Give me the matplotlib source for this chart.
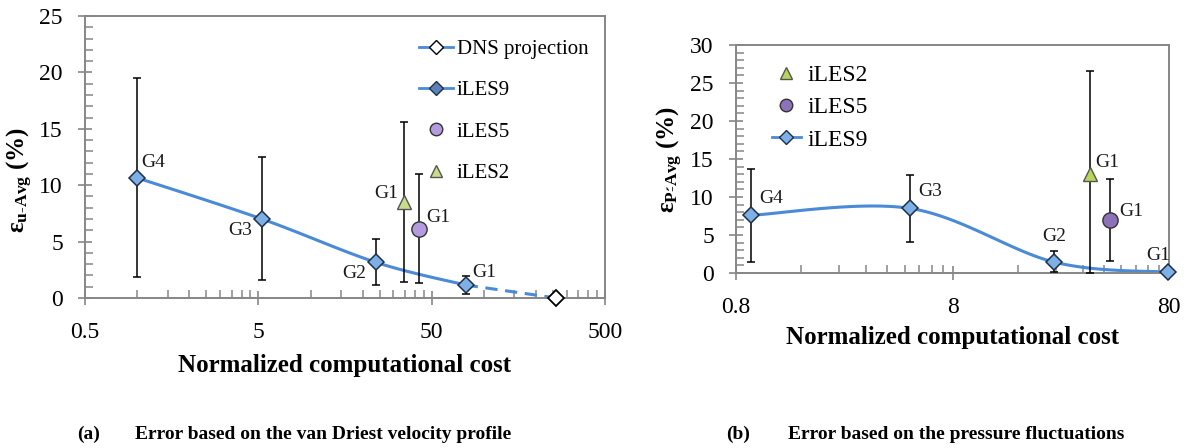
import numpy as np
import matplotlib
matplotlib.use('Agg')
import matplotlib.pyplot as plt
from matplotlib.ticker import FixedLocator, NullFormatter, FixedFormatter
from matplotlib.lines import Line2D

plt.rcParams['font.family'] = ['Liberation Serif', 'DejaVu Serif']
plt.rcParams['mathtext.fontset'] = 'custom'
plt.rcParams['mathtext.rm'] = 'Liberation Serif'
plt.rcParams['mathtext.bf'] = 'Liberation Serif:bold'
plt.rcParams['mathtext.it'] = 'Liberation Serif:italic'

# (a) error based on van Driest velocity profile
a_iles9_cost = [1.0, 5.25, 24.0, 78.6]
a_iles9_err = [10.65, 7.0, 3.15, 1.15]
a_iles9_lo = [1.9, 1.6, 1.15, 0.35]
a_iles9_hi = [19.5, 12.5, 5.2, 1.95]
a_dns_cost = [78.6, 262.0]
a_dns_err = [1.15, 0.0]
a_iles5_cost, a_iles5_err, a_iles5_lo, a_iles5_hi = [42.5], [6.15], [1.3], [10.95]
a_iles2_cost, a_iles2_err, a_iles2_lo, a_iles2_hi = [34.6], [8.5], [1.4], [15.6]

# (b) error based on pressure fluctuations
b_iles9_cost = [0.94, 5.1, 23.5, 79.0]
b_iles9_err = [7.6, 8.5, 1.45, 0.1]
b_iles9_lo = [1.4, 4.1, 0.1, 0.1]
b_iles9_hi = [13.7, 12.9, 2.9, 0.1]
b_iles5_cost, b_iles5_err, b_iles5_lo, b_iles5_hi = [42.9], [7.0], [1.55], [12.4]
b_iles2_cost, b_iles2_err, b_iles2_lo, b_iles2_hi = [34.5], [13.0], [0.0], [26.6]

BLUE = '#4a8ad6'
DIAMOND = '#7eb0e8'
GREEN = '#b8d45a'
GRAY = '#868686'


def smooth(xs, ys, n=40):
    # excel-like smoothed line (catmull-rom in log-x space)
    lx = np.log10(xs)
    pts = np.column_stack([lx, ys])
    pts = np.vstack([pts[0], pts, pts[-1]])
    out = []
    for i in range(1, len(pts) - 2):
        p0, p1, p2, p3 = pts[i - 1], pts[i], pts[i + 1], pts[i + 2]
        c1 = p1 + (p2 - p0) / 6
        c2 = p2 - (p3 - p1) / 6
        t = np.linspace(0, 1, n)[:, None]
        seg = (1 - t) ** 3 * p1 + 3 * (1 - t) ** 2 * t * c1 + 3 * (1 - t) * t ** 2 * c2 + t ** 3 * p2
        out.append(seg)
    out = np.vstack(out)
    return 10 ** out[:, 0], out[:, 1]


def errbar(ax, x, y, lo, hi):
    y = np.array(y)
    yerr = [y - np.array(lo), np.array(hi) - y]
    ax.errorbar(x, y, yerr=yerr, fmt='none', ecolor='black', elinewidth=1.1,
                capsize=3, capthick=1.1, zorder=3)


def style_axes(ax, base, xmax, ymax, majors, labels):
    ax.set_xscale('log')
    ax.set_xlim(base, xmax)
    ax.set_ylim(0, ymax)
    ax.xaxis.set_major_locator(FixedLocator(majors))
    ax.xaxis.set_major_formatter(FixedFormatter(labels))
    minors = []
    for m in majors[:-1]:
        minors += [m * k for k in range(2, 10)]
    ax.xaxis.set_minor_locator(FixedLocator(minors))
    ax.xaxis.set_minor_formatter(NullFormatter())
    ax.yaxis.set_major_locator(FixedLocator(np.arange(0, ymax + 1, 5)))
    ax.yaxis.set_minor_locator(FixedLocator(np.arange(0, ymax + 1, 1)))
    for s in ax.spines.values():
        s.set_color(GRAY)
        s.set_linewidth(1.4)
    ax.tick_params(which='major', direction='inout', length=10, width=1.2, color=GRAY,
                   labelsize=17, top=False, right=False)
    ax.tick_params(which='minor', direction='in', length=6, width=1.1, color=GRAY,
                   top=False, right=False)
    ax.tick_params(axis='x', which='major', pad=12)
    ax.tick_params(axis='y', which='major', pad=11)


fig = plt.figure(figsize=(11.91, 4.48), dpi=100)
ax1 = fig.add_axes([0.0714, 0.3348, 0.4366, 0.6295])
ax2 = fig.add_axes([0.618, 0.3906, 0.3636, 0.5089])

# ---- panel (a)
sx, sy = smooth(a_iles9_cost, a_iles9_err)
ax1.plot(sx, sy, color=BLUE, lw=2.2, zorder=2)
ax1.plot(a_dns_cost, a_dns_err, color=BLUE, lw=2.2, ls=(0, (4, 2.5)), zorder=2)
errbar(ax1, a_iles9_cost, a_iles9_err, a_iles9_lo, a_iles9_hi)
errbar(ax1, a_iles2_cost, a_iles2_err, a_iles2_lo, a_iles2_hi)
errbar(ax1, a_iles5_cost, a_iles5_err, a_iles5_lo, a_iles5_hi)
ax1.plot(a_iles9_cost, a_iles9_err, 'D', ms=8, mfc=DIAMOND, mec='#1f2f45', mew=1.1, zorder=4)
ax1.plot(a_dns_cost[1:], a_dns_err[1:], 'D', ms=8, mfc='white', mec='black', mew=1.3,
         zorder=4, clip_on=False)
ax1.plot(a_iles5_cost, a_iles5_err, 'o', ms=11, mfc='#b49be0', mec='#333333', mew=1.0, zorder=4)
ax1.plot(a_iles2_cost, a_iles2_err, '^', ms=10, mfc='#c8dc8c', mec='#555555', mew=1.0, zorder=4)
style_axes(ax1, 0.5, 500, 25, [0.5, 5, 50, 500], ['0.5', '5', '50', '500'])

lab = dict(fontsize=14, color='#1a1a1a')
ax1.annotate('G4', (a_iles9_cost[0], a_iles9_err[0]), xytext=(3, 5), textcoords='offset points',
             ha='left', va='bottom', **lab)
ax1.annotate('G3', (a_iles9_cost[1], a_iles9_err[1]), xytext=(-7, -2), textcoords='offset points',
             ha='right', va='top', **lab)
ax1.annotate('G2', (a_iles9_cost[2], a_iles9_err[2]), xytext=(-7, -2), textcoords='offset points',
             ha='right', va='top', **lab)
ax1.annotate('G1', (a_iles9_cost[3], a_iles9_err[3]), xytext=(5, 3), textcoords='offset points',
             ha='left', va='bottom', **lab)
ax1.annotate('G1', (a_iles2_cost[0], a_iles2_err[0]), xytext=(-4, 0), textcoords='offset points',
             ha='right', va='bottom', **lab)
ax1.annotate('G1', (a_iles5_cost[0], a_iles5_err[0]), xytext=(5, 2), textcoords='offset points',
             ha='left', va='bottom', **lab)

h1 = [Line2D([], [], color=BLUE, lw=2, marker='D', ms=7, mfc='white', mec='black'),
      Line2D([], [], color=BLUE, lw=2, marker='D', ms=7, mfc='#5a82b8', mec='#1f2f45'),
      Line2D([], [], ls='none', marker='o', ms=9, mfc='#b49be0', mec='#333333'),
      Line2D([], [], ls='none', marker='^', ms=8, mfc='#c8dc8c', mec='#555555')]
ax1.legend(h1, ['DNS projection', 'iLES9', 'iLES5', 'iLES2'], loc='upper left',
           bbox_to_anchor=(0.627, 0.947), frameon=False, fontsize=15, labelspacing=1.05,
           handlelength=1.6, handletextpad=0.2, borderaxespad=0)

ax1.set_xlabel('Normalized computational cost', fontsize=18, fontweight='bold', labelpad=8)
ax1.set_ylabel(r'$\mathbf{ε_{u\text{-}Avg}}$ (%)', fontsize=18, fontweight='bold')
ax1.yaxis.set_label_coords(-0.096, 0.42)

# ---- panel (b)
sx, sy = smooth(b_iles9_cost, b_iles9_err)
ax2.plot(sx, sy, color=BLUE, lw=2.2, zorder=2)
errbar(ax2, b_iles9_cost[:3], b_iles9_err[:3], b_iles9_lo[:3], b_iles9_hi[:3])
errbar(ax2, b_iles2_cost, b_iles2_err, b_iles2_lo, b_iles2_hi)
errbar(ax2, b_iles5_cost, b_iles5_err, b_iles5_lo, b_iles5_hi)
ax2.plot(b_iles9_cost, b_iles9_err, 'D', ms=8, mfc=DIAMOND, mec='#1f2f45', mew=1.1, zorder=4,
         clip_on=False)
ax2.plot(b_iles5_cost, b_iles5_err, 'o', ms=11, mfc='#8d72bb', mec='#333333', mew=1.0, zorder=4)
ax2.plot(b_iles2_cost, b_iles2_err, '^', ms=10, mfc=GREEN, mec='#555555', mew=1.0, zorder=4)
style_axes(ax2, 0.8, 80, 30, [0.8, 8, 80], ['0.8', '8', '80'])

ax2.annotate('G4', (b_iles9_cost[0], b_iles9_err[0]), xytext=(6, 6), textcoords='offset points',
             ha='left', va='bottom', **lab)
ax2.annotate('G3', (b_iles9_cost[1], b_iles9_err[1]), xytext=(6, 6), textcoords='offset points',
             ha='left', va='bottom', **lab)
ax2.annotate('G2', (b_iles9_cost[2], b_iles9_err[2]), xytext=(0, 12), textcoords='offset points',
             ha='center', va='bottom', **lab)
ax2.annotate('G1', (b_iles9_cost[3], b_iles9_err[3]), xytext=(2, 6), textcoords='offset points',
             ha='right', va='bottom', **lab)
ax2.annotate('G1', (b_iles2_cost[0], b_iles2_err[0]), xytext=(4, 2), textcoords='offset points',
             ha='left', va='bottom', **lab)
ax2.annotate('G1', (b_iles5_cost[0], b_iles5_err[0]), xytext=(6, 0), textcoords='offset points',
             ha='left', va='bottom', **lab)

h2 = [Line2D([], [], ls='none', marker='^', ms=8, mfc=GREEN, mec='#555555'),
      Line2D([], [], ls='none', marker='o', ms=9, mfc='#8d72bb', mec='#333333'),
      Line2D([], [], color=BLUE, lw=2, marker='D', ms=7, mfc=DIAMOND, mec='#1f2f45')]
ax2.legend(h2, ['iLES2', 'iLES5', 'iLES9'], loc='upper left', bbox_to_anchor=(0.062, 0.955),
           frameon=False, fontsize=17, labelspacing=0.45, handlelength=1.2, handletextpad=0.3,
           borderaxespad=0)

ax2.set_xlabel('Normalized computational cost', fontsize=18, fontweight='bold', labelpad=6)
ax2.set_ylabel(r'$\mathbf{ε_{P\'\text{-}Avg}}$ (%)', fontsize=18, fontweight='bold')
ax2.yaxis.set_label_coords(-0.118, 0.5)

fig.text(0.065, 0.03, '(a)', fontsize=14, fontweight='bold', va='center')
fig.text(0.113, 0.03, 'Error based on the van Driest velocity profile', fontsize=14,
         fontweight='bold', va='center')
fig.text(0.61, 0.03, '(b)', fontsize=14, fontweight='bold', va='center')
fig.text(0.662, 0.03, 'Error based on the pressure fluctuations', fontsize=14,
         fontweight='bold', va='center')

fig.savefig('out.png', dpi=100)
